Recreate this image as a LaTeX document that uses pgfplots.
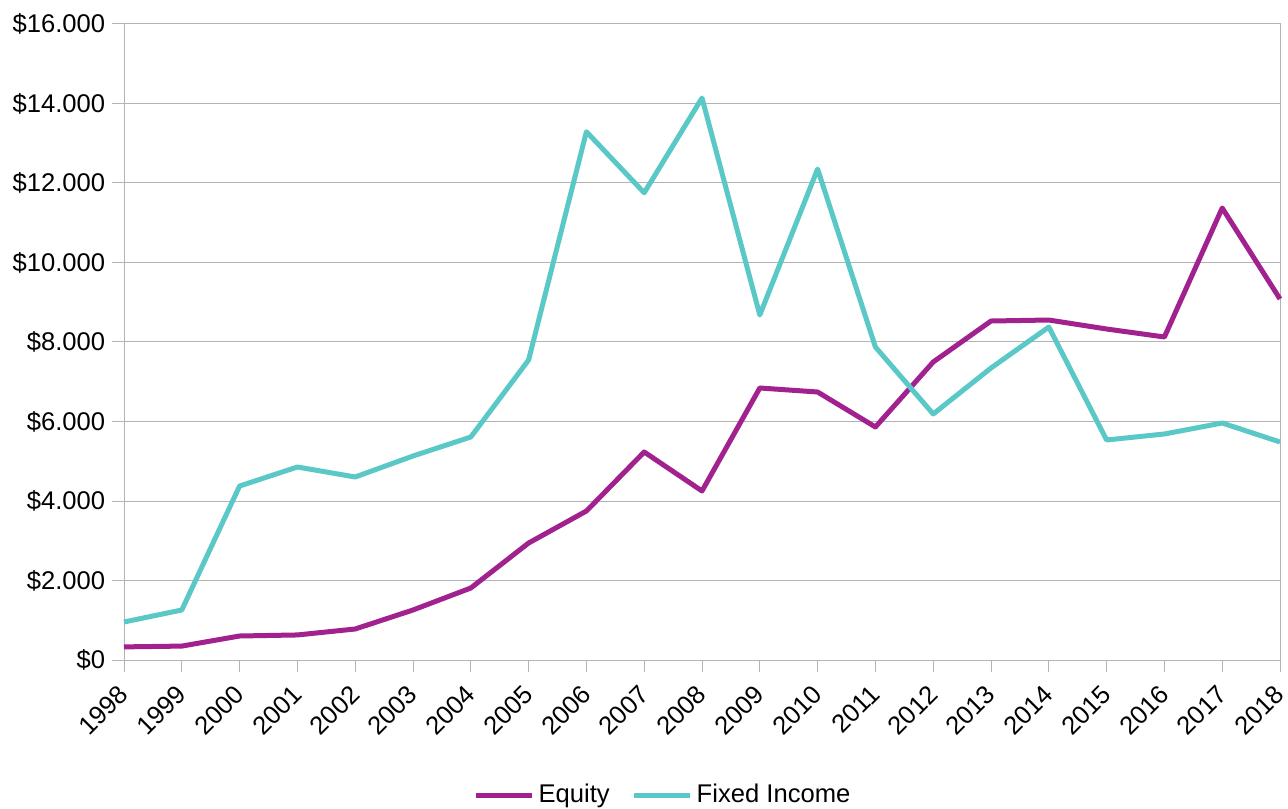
\documentclass[border=0pt]{standalone}
\usepackage{pgfplots}
\pgfplotsset{compat=1.18}
\usepackage{fontspec}
\setmainfont{Liberation Sans}
\definecolor{equity}{HTML}{A1218E}
\definecolor{fixedinc}{HTML}{5BC8C8}
\definecolor{gridgray}{HTML}{B3B3B3}

\begin{document}
\begin{tikzpicture}
% page frame: plot area spans (0,0)--(578pt,318pt)
\path[use as bounding box] (-62pt,-74pt) rectangle (582pt,330pt);
\begin{axis}[
  at={(0,0)}, anchor=south west,
  scale only axis,
  width=578pt, height=318pt,
  xmin=1998, xmax=2018,
  ymin=0, ymax=16000,
  xtick={1998,1999,2000,2001,2002,2003,2004,2005,2006,2007,2008,2009,2010,2011,2012,2013,2014,2015,2016,2017,2018},
  xticklabels={1998,1999,2000,2001,2002,2003,2004,2005,2006,2007,2008,2009,2010,2011,2012,2013,2014,2015,2016,2017,2018},
  ytick={0,2000,4000,6000,8000,10000,12000,14000,16000},
  yticklabels={\$0,\$2.000,\$4.000,\$6.000,\$8.000,\$10.000,\$12.000,\$14.000,\$16.000},
  scaled y ticks=false,
  xtick pos=bottom, ytick pos=left,
  ymajorgrids,
  grid style={gridgray, line width=0.5pt},
  axis line style={gridgray, line width=0.5pt},
  tick style={gridgray, line width=0.5pt},
  tick align=outside,
  major tick length=5.75pt,
  x tick label style={yshift=-9pt, rotate=45, anchor=east, inner sep=0pt},
  y tick label style={inner sep=3.5pt},
  tick label style={font=\fontsize{12.8}{15}\selectfont, text=black},
  legend style={
    at={(axis description cs:0.5,0)}, anchor=center, yshift=-67.5pt, xshift=-19pt,
    draw=none, fill=none,
    legend columns=2,
    font=\fontsize{12.8}{15}\selectfont,
    /tikz/every even column/.append style={column sep=9pt},
  },
  legend image code/.code={\draw[#1, line width=2.5pt] (0pt,0pt) -- (28pt,0pt);},
  clip=false,
]
\addplot[equity, line width=2.5pt, line join=round] coordinates {
  (1998,330) (1999,350) (2000,604) (2001,630) (2002,780) (2003,1258)
  (2004,1811) (2005,2943) (2006,3748) (2007,5233) (2008,4252) (2009,6843)
  (2010,6742) (2011,5862) (2012,7497) (2013,8528) (2014,8553) (2015,8327)
  (2016,8126) (2017,11371) (2018,9082)
};
\addlegendentry{Equity}
\addplot[fixedinc, line width=2.5pt, line join=round] coordinates {
  (1998,956) (1999,1258) (2000,4377) (2001,4855) (2002,4604) (2003,5132)
  (2004,5610) (2005,7547) (2006,13290) (2007,11754) (2008,14138) (2009,8679)
  (2010,12352) (2011,7874) (2012,6189) (2013,7346) (2014,8377) (2015,5535)
  (2016,5686) (2017,5962) (2018,5484)
};
\addlegendentry{Fixed Income}
\end{axis}
\end{tikzpicture}
\end{document}
